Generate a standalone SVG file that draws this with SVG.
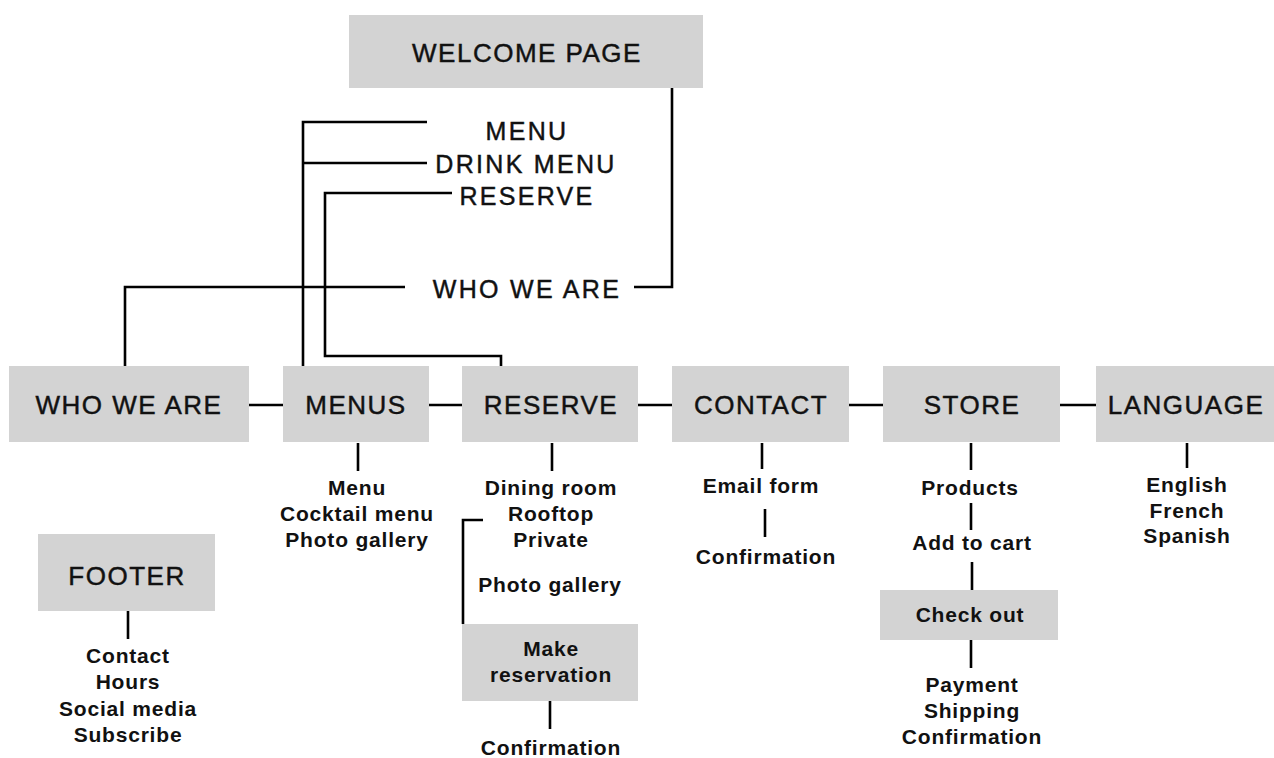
<svg xmlns="http://www.w3.org/2000/svg" width="1274" height="758" viewBox="0 0 1274 758">
<style>
.box{fill:#d3d3d3}
.h{font-family:"Liberation Sans",Arial,sans-serif;font-size:26px;letter-spacing:1.5px;fill:#111;stroke:#111;stroke-width:0.45;text-anchor:middle}
.m{font-family:"Liberation Sans",Arial,sans-serif;font-size:25px;letter-spacing:2.3px;fill:#111;stroke:#111;stroke-width:0.45;text-anchor:middle}
.s{font-family:"Liberation Sans",Arial,sans-serif;font-size:21px;font-weight:bold;letter-spacing:0.8px;fill:#111;text-anchor:middle}
.c{fill:none;stroke:#000;stroke-width:2.6}
</style>
<rect width="1274" height="758" fill="#fff"/>
<g id="connectors">
<path class="c" d="M672,88 V287 H634"/>
<path class="c" d="M405,287 H125 V366"/>
<path class="c" d="M427,122 H303 V366"/>
<path class="c" d="M427,163 H303"/>
<path class="c" d="M452,193 H325 V356 H501 V366"/>
<path class="c" d="M249,405 H283 M429,405 H462 M638,405 H672 M849,405 H883 M1060,405 H1096"/>
<path class="c" d="M358,443 V471 M552,443 V471 M762,443 V469 M971,443 V470 M1187,443 V468"/>
<path class="c" d="M765,509 V537 M971,503 V530 M972,562 V590 M971,640 V668"/>
<path class="c" d="M483,520 H463 V624"/>
<path class="c" d="M550,701 V729"/>
<path class="c" d="M128,611 V639"/>
</g>
<g id="welcome"><rect class="box" x="349" y="15" width="354" height="73"/><text class="h" x="527" y="62">WELCOME PAGE</text></g>
<g id="nav-menu"><text class="m" x="527" y="140">MENU</text></g>
<g id="nav-drink"><text class="m" x="526" y="173">DRINK MENU</text></g>
<g id="nav-reserve"><text class="m" x="527" y="205">RESERVE</text></g>
<g id="nav-who"><text class="m" x="527" y="298">WHO WE ARE</text></g>
<g id="who"><rect class="box" x="9" y="366" width="240" height="76"/><text class="h" x="129" y="414">WHO WE ARE</text></g>
<g id="menus"><rect class="box" x="283" y="366" width="146" height="76"/><text class="h" x="356" y="414">MENUS</text></g>
<g id="reserve"><rect class="box" x="462" y="366" width="176" height="76"/><text class="h" x="551" y="414">RESERVE</text></g>
<g id="contact"><rect class="box" x="672" y="366" width="177" height="76"/><text class="h" x="761" y="414">CONTACT</text></g>
<g id="store"><rect class="box" x="883" y="366" width="177" height="76"/><text class="h" x="972" y="414">STORE</text></g>
<g id="language"><rect class="box" x="1096" y="366" width="178" height="76"/><text class="h" x="1186" y="414">LANGUAGE</text></g>
<g id="menus-items"><text class="s" x="357" y="495">Menu</text><text class="s" x="357" y="521">Cocktail menu</text><text class="s" x="357" y="547">Photo gallery</text></g>
<g id="reserve-items"><text class="s" x="551" y="495">Dining room</text><text class="s" x="551" y="521">Rooftop</text><text class="s" x="551" y="547">Private</text><text class="s" x="550" y="592">Photo gallery</text></g>
<g id="make-reservation"><rect class="box" x="462" y="624" width="176" height="77"/><text class="s" x="551" y="656">Make</text><text class="s" x="551" y="682">reservation</text></g>
<g id="reserve-confirm"><text class="s" x="551" y="755">Confirmation</text></g>
<g id="contact-email"><text class="s" x="761" y="493">Email form</text></g>
<g id="contact-confirm"><text class="s" x="766" y="564">Confirmation</text></g>
<g id="store-products"><text class="s" x="970" y="495">Products</text></g>
<g id="store-cart"><text class="s" x="972" y="550">Add to cart</text></g>
<g id="checkout"><rect class="box" x="880" y="590" width="178" height="50"/><text class="s" x="970" y="622">Check out</text></g>
<g id="store-final"><text class="s" x="972" y="692">Payment</text><text class="s" x="972" y="718">Shipping</text><text class="s" x="972" y="744">Confirmation</text></g>
<g id="language-items"><text class="s" x="1187" y="492">English</text><text class="s" x="1187" y="518">French</text><text class="s" x="1187" y="543">Spanish</text></g>
<g id="footer"><rect class="box" x="38" y="534" width="177" height="77"/><text class="h" x="127" y="585">FOOTER</text></g>
<g id="footer-items"><text class="s" x="128" y="663">Contact</text><text class="s" x="128" y="689">Hours</text><text class="s" x="128" y="716">Social media</text><text class="s" x="128" y="742">Subscribe</text></g>
</svg>
